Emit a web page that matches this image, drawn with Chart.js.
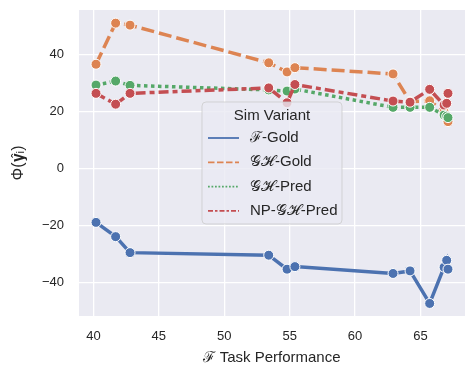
<!DOCTYPE html>
<html>
<head>
<meta charset="utf-8">
<script src="https://cdn.jsdelivr.net/npm/chart.js@4"></script>
<style>
  html, body { margin: 0; padding: 0; background: #fff; }
  #wrap { width: 475px; height: 376px; }
</style>
</head>
<body>
<div id="wrap"><canvas id="chart" width="475" height="376"></canvas></div>
<script>
// F task performance of each model (x)
const taskPerf = [40.2, 41.7, 42.8, 53.4, 54.8, 55.4, 62.9, 64.2, 65.7, 66.8, 67.0, 67.1];

// Phi(y_i) per sim variant
const fGold = [-18.9, -23.9, -29.5, -30.4, -35.3, -34.4, -36.8, -35.9, -47.3, -34.6, -32.2, -35.3];
const ghGold = [36.5, 50.9, 50.2, 37.0, 33.8, 35.3, 33.1, 23.4, 23.7, 19.8, 18.0, 16.4];
const ghPred = [29.2, 30.6, 29.1, 27.5, 27.1, 27.8, 21.4, 21.4, 21.4, 18.7, 18.3, 17.8];
const npGhPred = [26.3, 22.5, 26.3, 28.2, 23.0, 29.4, 23.6, 23.2, 27.7, 22.2, 22.8, 26.3];

const variantNames = ['\u2131-Gold', '\uD835\uDCA2\u210B-Gold', '\uD835\uDCA2\u210B-Pred', 'NP-\uD835\uDCA2\u210B-Pred'];

const xTicks = [40, 45, 50, 55, 60, 65];
const yTicks = [-40, -20, 0, 20, 40];

const FONT = '"Liberation Sans", Arial, sans-serif';
const TEXT = '#262626';

function pts(ys) {
    return ys.map((y, i) => ({ x: taskPerf[i], y: y }));
}

function series(label, ys, color, dash, order) {
    return {
        label: label,
        data: pts(ys),
        borderColor: color,
        backgroundColor: color,
        borderWidth: 3.5,
        borderDash: dash,
        borderCapStyle: 'butt',
        pointRadius: 5,
        pointBorderColor: '#fff',
        pointBorderWidth: 1,
        pointBackgroundColor: color,
        tension: 0,
        order: order
    };
}

// seaborn-ish plot background
const bgPlugin = {
    id: 'bg',
    beforeDraw(chart) {
        const a = chart.chartArea;
        const ctx = chart.ctx;
        ctx.save();
        ctx.fillStyle = '#EAEAF2';
        ctx.fillRect(a.left, a.top, a.right - a.left, a.bottom - a.top);
        ctx.restore();
    }
};

// legend box inside the plot, drawn over the lines
const boxLegend = {
    id: 'boxLegend',
    afterDatasetsDraw(chart) {
        const ctx = chart.ctx;
        const x0 = 202, y0 = 102, w = 140, h = 122;
        ctx.save();
        ctx.beginPath();
        ctx.roundRect(x0, y0, w, h, 4);
        ctx.fillStyle = 'rgba(234,234,242,0.8)';
        ctx.fill();
        ctx.strokeStyle = 'rgba(204,204,204,0.8)';
        ctx.lineWidth = 1;
        ctx.stroke();

        ctx.fillStyle = TEXT;
        ctx.font = '15px ' + FONT;
        ctx.textAlign = 'center';
        ctx.textBaseline = 'middle';
        ctx.fillText('Sim Variant', x0 + w / 2, y0 + 14);

        ctx.textAlign = 'left';
        chart.data.datasets.forEach((ds, i) => {
            const y = y0 + 36 + i * 24.3;
            ctx.beginPath();
            ctx.strokeStyle = ds.borderColor;
            ctx.lineWidth = 1.8;
            ctx.setLineDash(ds.borderDash.map(d => d / 2));
            ctx.moveTo(x0 + 6, y);
            ctx.lineTo(x0 + 37, y);
            ctx.stroke();
            ctx.setLineDash([]);
            ctx.fillStyle = TEXT;
            ctx.fillText(ds.label, x0 + 48, y);
        });
        ctx.restore();
    }
};

new Chart(document.getElementById('chart').getContext('2d'), {
    type: 'line',
    data: {
        datasets: [
            series(variantNames[0], fGold, '#4C72B0', [], 4),
            series(variantNames[1], ghGold, '#DD8452', [13, 5], 3),
            series(variantNames[2], ghPred, '#55A868', [3.5, 3.5], 2),
            series(variantNames[3], npGhPred, '#C44E52', [10, 4, 5, 4], 1)
        ]
    },
    options: {
        responsive: false,
        animation: false,
        layout: { padding: { top: 10, right: 10, left: 0, bottom: 0 } },
        plugins: {
            legend: { display: false },
            tooltip: { enabled: false }
        },
        scales: {
            x: {
                type: 'linear',
                min: 38.9,
                max: 68.4,
                afterBuildTicks: s => { s.ticks = xTicks.map(v => ({ value: v })); },
                afterFit: s => { s.height = 60; s.paddingLeft = 0; s.paddingRight = 0; },
                grid: { color: '#fff', lineWidth: 1.3, drawTicks: false },
                border: { display: false },
                ticks: { color: TEXT, font: { family: FONT, size: 13 }, padding: 13, maxRotation: 0 },
                title: {
                    display: true,
                    text: '\u2131 Task Performance',
                    color: TEXT,
                    font: { family: FONT, size: 15 },
                    padding: { top: 0, bottom: 9 }
                }
            },
            y: {
                type: 'linear',
                min: -51.7,
                max: 55.5,
                afterBuildTicks: s => { s.ticks = yTicks.map(v => ({ value: v })); },
                afterFit: s => { s.width = 79; s.paddingTop = 0; s.paddingBottom = 0; },
                grid: { color: '#fff', lineWidth: 1.3, drawTicks: false },
                border: { display: false },
                ticks: {
                    color: TEXT,
                    font: { family: FONT, size: 13 },
                    padding: 15,
                    callback: v => (v < 0 ? '\u2212' + Math.abs(v) : String(v))
                },
                title: {
                    display: true,
                    text: '\u03A6(\uD835\uDC32\u0302\u1D62)',
                    color: TEXT,
                    font: { family: FONT, size: 16 },
                    padding: { top: 9, bottom: 0 }
                }
            }
        }
    },
    plugins: [bgPlugin, boxLegend]
});
</script>
</body>
</html>
